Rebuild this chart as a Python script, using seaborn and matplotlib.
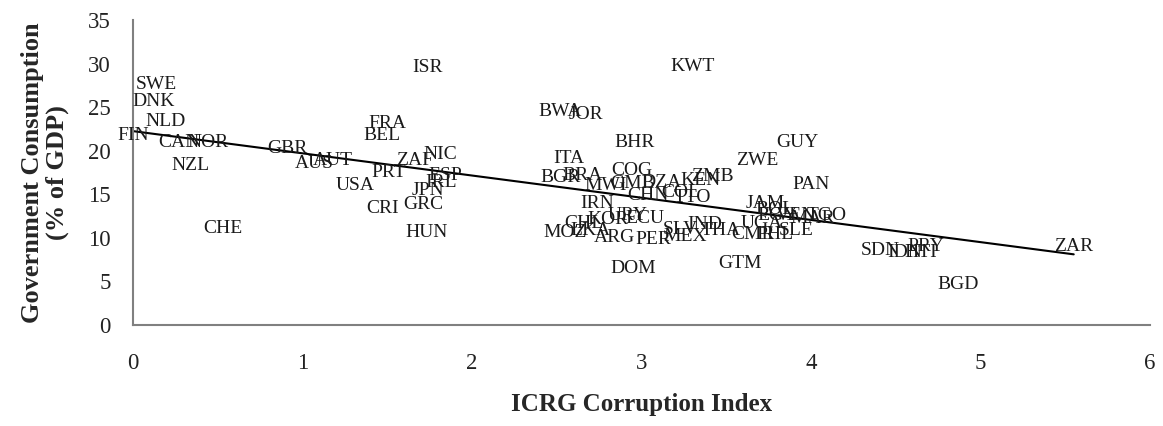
import numpy as np
import pandas as pd
import matplotlib
matplotlib.use("Agg")
import matplotlib.pyplot as plt
import seaborn as sns

countries = ["SWE", "DNK", "NLD", "FIN", "CAN", "NOR", "NZL", "CHE", "GBR", "AUS",
             "AUT", "USA", "PRT", "CRI", "GRC", "HUN", "JPN", "IRL", "ESP", "ZAF",
             "NIC", "FRA", "BEL", "ISR", "KWT", "BWA", "JOR", "BHR", "ITA", "BGR",
             "BRA", "COG", "MWI", "GMB", "DZA", "KEN", "ZMB", "CHN", "COL", "TTO",
             "IRN", "URY", "KOR", "ECU", "CHL", "MOZ", "LKA", "ARG", "PER", "DOM",
             "SLV", "MEX", "IND", "THA", "UGA", "CMR", "PHL", "SLE", "GTM", "ZWE",
             "GUY", "PAN", "JAM", "BOL", "EGY", "VEN", "MAR", "TGO", "SDN", "IDN",
             "HTI", "PRY", "BGD", "ZAR"]
corruption = [0.14, 0.12, 0.19, 0.00, 0.27, 0.44, 0.34, 0.53, 0.91, 1.07,
              1.18, 1.31, 1.51, 1.47, 1.71, 1.73, 1.74, 1.82, 1.84, 1.66,
              1.81, 1.50, 1.47, 1.74, 3.30, 2.52, 2.67, 2.96, 2.57, 2.52,
              2.65, 2.94, 2.79, 2.95, 3.12, 3.35, 3.42, 3.04, 3.23, 3.30,
              2.74, 2.92, 2.80, 3.02, 2.66, 2.55, 2.70, 2.84, 3.07, 2.95,
              3.23, 3.26, 3.37, 3.47, 3.71, 3.66, 3.79, 3.91, 3.58, 3.68,
              3.92, 4.00, 3.73, 3.79, 3.80, 3.91, 4.01, 4.09, 4.41, 4.55,
              4.65, 4.68, 4.87, 5.55]
gov_cons = [27.6, 25.6, 23.4, 21.8, 20.9, 21.0, 18.3, 11.1, 20.3, 18.5,
            18.9, 16.0, 17.5, 13.4, 13.8, 10.6, 15.4, 16.4, 17.1, 18.9,
            19.6, 23.1, 21.8, 29.6, 29.7, 24.5, 24.1, 21.0, 19.1, 16.9,
            17.2, 17.7, 16.0, 16.2, 16.3, 16.6, 17.0, 14.9, 15.2, 14.6,
            14.0, 12.6, 12.1, 12.2, 11.6, 10.6, 10.8, 10.0, 9.8, 6.5,
            11.0, 10.1, 11.5, 10.8, 11.7, 10.4, 10.4, 10.9, 7.1, 18.9,
            21.0, 16.1, 13.9, 13.3, 12.6, 12.6, 12.2, 12.6, 8.6, 8.3,
            8.3, 9.0, 4.6, 9.0]

x_ticks = [0, 1, 2, 3, 4, 5, 6]
y_ticks = [0, 5, 10, 15, 20, 25, 30, 35]

df = pd.DataFrame({"country": countries, "corr": corruption, "gov": gov_cons})

sns.set_style("white")
plt.rcParams["font.family"] = ["Liberation Serif", "DejaVu Serif"]

fig = plt.figure(figsize=(11.63, 4.26), dpi=100)
ax = fig.add_axes([133 / 1163, 1 - 325 / 426, (1150 - 133) / 1163, (325 - 20) / 426])

sns.regplot(data=df, x="corr", y="gov", scatter=False, ci=None, truncate=True,
            color="black", line_kws={"linewidth": 1.5}, ax=ax)

for c, xv, yv in zip(df["country"], df["corr"], df["gov"]):
    ax.text(xv, yv, c, ha="center", va="center", fontsize=14, color="#1a1a1a")

ax.set_xlim(0, 6)
ax.set_ylim(0, 35)
ax.set_xticks(x_ticks)
ax.set_yticks(y_ticks)
ax.tick_params(axis="both", direction="in", length=5, color="#808080",
               labelsize=16.5, labelcolor="#222222")
ax.tick_params(axis="x", pad=20)
ax.tick_params(axis="y", pad=16)
for side in ["top", "right"]:
    ax.spines[side].set_visible(False)
for side in ["left", "bottom"]:
    ax.spines[side].set_color("#808080")
    ax.spines[side].set_linewidth(1.5)

ax.set_xlabel("ICRG Corruption Index", fontsize=18, fontweight="bold", labelpad=14)
ax.set_ylabel("Government Consumption\n(% of GDP)", fontsize=19, fontweight="bold",
              labelpad=14, linespacing=1.05)

fig.savefig("out.png", dpi=100)
